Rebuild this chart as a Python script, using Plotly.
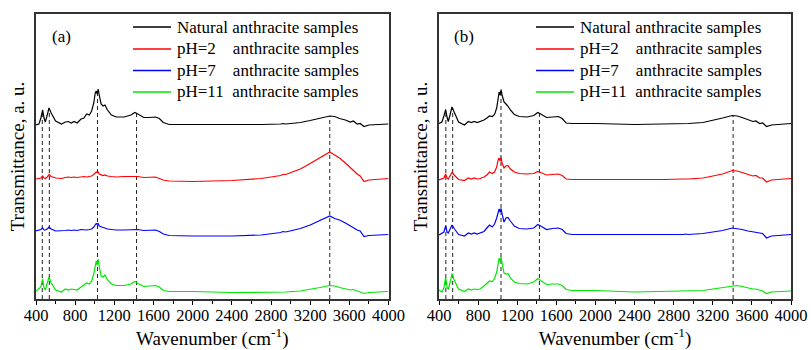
import numpy as np
import plotly.graph_objects as go

# ---------------- data (wavenumber in cm-1, transmittance in a.u. with vertical offsets) -----------
wavenumber = [400, 430, 450, 468, 482, 495, 515, 533, 555, 600, 660, 700, 730, 760, 790, 820, 860, 890,
              917, 945, 968, 990, 1005, 1015, 1025, 1035, 1045, 1065, 1085, 1104, 1130, 1170, 1220, 1300,
              1370, 1410, 1440, 1500, 1560, 1620, 1660, 1700, 1760, 2000, 2400, 2700, 2900, 2920, 2950,
              3100, 3200, 3300, 3400, 3450, 3500, 3560, 3610, 3640, 3680, 3710, 3750, 3800, 4000]

# panel (a)
a_natural = [175, 176, 182, 190, 182, 178, 185, 192, 187, 179, 176, 178, 178.5, 177, 178.5, 177, 181, 182,
             186, 185, 189, 197, 207, 209, 206, 211, 205, 196, 194, 195, 190, 185, 183, 183,
             185, 187.5, 186, 182.5, 182.5, 183, 181.5, 177.5, 175.5, 175.5, 175, 175.5, 176, 176.5, 176,
             177.5, 179.5, 182, 184, 183.5, 181.5, 180, 178, 179, 176, 176.5, 173.5, 175, 176]
a_ph2 = [121, 121.5, 122, 124, 122, 121.5, 123, 125.5, 123.5, 122, 121.5, 122.5, 123, 122.5, 123, 122.5, 123, 123.5,
         123, 123.5, 124, 125.5, 127, 128, 127.5, 128, 126, 125, 124.5, 125, 124, 123.5, 123, 123.5,
         123.5, 124, 123.5, 122.5, 122.5, 123, 121.5, 120, 119, 118.5, 119.5, 121.5, 124.5, 125.5, 125.5,
         131, 136.5, 142.5, 148, 145, 142, 137, 132, 130, 126, 124, 118.5, 120, 121.5]
a_ph7 = [69, 69.5, 70.5, 72, 70, 70, 71, 73, 71, 69, 69, 69.5, 70, 69.5, 70, 69.5, 70.5, 70,
         70, 70.5, 71, 73, 75, 76.5, 76, 76.5, 74, 73, 72.5, 72, 71, 70.5, 70, 70,
         70.5, 71, 70.5, 69.5, 69.5, 70, 68.5, 66, 64.5, 64, 64, 65, 67.5, 68.5, 68,
         71.5, 75, 79.5, 84, 81.5, 80, 77, 74, 73, 70, 69, 63.5, 64.5, 65.5]
a_ph11 = [9, 11, 13, 21, 12, 10, 16, 23, 17, 10, 8, 11, 10, 11, 10.5, 10, 13, 15,
          17, 16, 19, 26, 37, 39, 35, 41, 34, 24, 23, 25, 20, 16, 14.5, 14.5,
          16, 18.5, 16.5, 13.5, 14, 14.5, 13, 9.5, 8.5, 8.5, 7.5, 7.5, 8, 8, 8,
          9, 10.5, 12.5, 14.5, 14, 12.5, 11.5, 10, 10.5, 9, 8.5, 6.5, 7.5, 8.5]

# panel (b)
b_natural = [176.5, 178, 184, 190.5, 183, 178.5, 186, 193, 188, 178, 175, 178.5, 177.5, 178.5, 177.5, 178.5, 180, 182,
             184, 183.5, 185.5, 192, 204, 208, 205, 210.5, 205, 198, 196, 194, 190, 185.5, 183.5, 183,
             184.5, 187.5, 186, 182.5, 183, 183.5, 181.5, 177, 176.5, 176.5, 175.5, 176, 176.5, 176.5, 176.5,
             177.5, 179.5, 182, 184.5, 184, 182.5, 180.5, 178.5, 179, 176.5, 177, 173.5, 175, 176.5]
b_ph2 = [120, 121.5, 122, 126, 122, 121, 124, 127.5, 125, 120.5, 119.5, 122, 121, 122, 121, 121.5, 123, 125,
         128, 126.5, 128, 133, 140, 142, 139, 142.5, 137, 132, 134, 134.5, 131, 128, 126.5, 126,
         126.5, 128.5, 127.5, 125, 125.5, 126, 124.5, 121, 120.5, 120.5, 120, 120.5, 121, 121, 121,
         122, 124, 126, 129.5, 129, 127.5, 125.5, 124, 124.5, 122, 122, 118, 120, 121.5]
b_ph7 = [65, 66.5, 68, 74, 68, 67, 71, 75, 71.5, 65.5, 64, 67, 66, 67, 66, 67, 68.5, 72,
         75, 73, 76, 82, 89, 91, 88, 91.5, 86, 78, 82, 82.5, 79, 74, 71.5, 71,
         72, 75.5, 74, 70.5, 71.5, 72, 70.5, 66.5, 65.5, 65.5, 65, 65.5, 65.5, 66, 65.5,
         66.5, 68, 69.5, 72, 71.5, 70.5, 69, 68, 68, 66.5, 66.5, 62, 64, 65.5]
b_ph11 = [10, 8, 12, 23, 13, 10.5, 18, 26.5, 20, 11, 8.5, 11, 10, 11, 10.5, 11, 14, 17,
          19, 18.5, 21.5, 28, 38, 42, 38, 43, 37, 27, 26, 26.5, 22, 18, 16.5, 16,
          18, 21.5, 19.5, 15.5, 16, 16, 14.5, 10.5, 9.5, 9.5, 8, 8.5, 9, 9, 9,
          9.5, 11, 12.5, 14.5, 14.5, 13.5, 12, 11, 11, 9.5, 9, 6.5, 8, 9]

# marked band positions (cm-1)
peaks_a = [464, 536, 1028, 1427, 3400]
peaks_b = [470, 540, 1034, 1427, 3408]

tick_values = [400, 800, 1200, 1600, 2000, 2400, 2800, 3200, 3600, 4000]
tick_labels = ["400", "800", "1200", "1600", "2000", "2400", "2800", "3200", "3600", "4000"]

series_names = ["Natural\u00a0anthracite samples",
                "pH=2\u00a0\u00a0\u00a0\u00a0anthracite samples",
                "pH=7\u00a0\u00a0\u00a0\u00a0anthracite samples",
                "pH=11\u00a0\u00a0anthracite samples"]
series_colors = ["#000000", "#ff0000", "#0000ff", "#00e600"]
panel_labels = ["(a)", "(b)"]

X_RANGE = [400, 4000]
Y_RANGE = [1, 286]
FONT = "Liberation Serif"

# ---------------- layout geometry (pixels) ----------------
W, H = 811, 350
M_L, M_R, M_T, M_B = 36, 20, 14, 51
PLOT_W = W - M_L - M_R
PLOT_H = H - M_T - M_B
PANEL_LEFT_PX = [36, 439]
PANEL_RIGHT_PX = [388.5, 791]
LEGEND_ROW_PX = [27, 49, 70.5, 92]


def px_x(px):
    return (px - M_L) / PLOT_W


def px_y(py):
    return 1 - (py - M_T) / PLOT_H


fig = go.Figure()

panels = [
    dict(xa="x", ya="y", data=[a_natural, a_ph2, a_ph7, a_ph11], peaks=peaks_a),
    dict(xa="x2", ya="y2", data=[b_natural, b_ph2, b_ph7, b_ph11], peaks=peaks_b),
]

for p in panels:
    natural = p["data"][0]
    for pk in p["peaks"]:
        top = float(np.interp(pk, wavenumber, natural))
        fig.add_trace(go.Scatter(x=[pk, pk], y=[Y_RANGE[0], top], mode="lines",
                                 line=dict(color="#222222", width=1, dash="4px,3px"),
                                 xaxis=p["xa"], yaxis=p["ya"], showlegend=False, hoverinfo="skip"))
    for name, col, vals in zip(series_names, series_colors, p["data"]):
        fig.add_trace(go.Scatter(x=wavenumber, y=vals, mode="lines", name=name,
                                 line=dict(color=col, width=1.2),
                                 xaxis=p["xa"], yaxis=p["ya"], showlegend=False))

axis_common = dict(range=X_RANGE, tickmode="array", tickvals=tick_values, ticktext=tick_labels,
                   ticks="outside", ticklen=4, tickwidth=1, automargin=False, ticklabelstandoff=-4,
                   tickcolor="black", showline=True, linecolor="#333333", linewidth=1.5, mirror=True,
                   showgrid=False, zeroline=False,
                   tickfont=dict(family=FONT, size=16.5, color="black"),
                   minor=dict(dtick=200, tick0=400, ticks="outside", ticklen=3, tickcolor="black"),
                   title=dict(text="Wavenumber (cm<sup>-1</sup>)", font=dict(family=FONT, size=19, color="black"),
                              standoff=11))
yaxis_common = dict(range=Y_RANGE, showticklabels=False, ticks="", showline=True, linecolor="#333333",
                    linewidth=1.5, mirror=True, showgrid=False, zeroline=False, automargin=False,
                    title=dict(text="Transmittance, a. u.", font=dict(family=FONT, size=19, color="black"),
                               standoff=5))

# legend entries (one block per panel), built from the series names and colours
shapes = []
annotations = []
for left in PANEL_LEFT_PX:
    text_x = left + 139
    for row_y, name, col in zip(LEGEND_ROW_PX, series_names, series_colors):
        shapes.append(dict(type="line", xref="paper", yref="paper",
                           x0=px_x(text_x - 42), x1=px_x(text_x - 4), y0=px_y(row_y), y1=px_y(row_y),
                           line=dict(color=col, width=1.3)))
        annotations.append(dict(text=name, x=px_x(text_x), y=px_y(row_y), xref="paper", yref="paper",
                                xanchor="left", yanchor="middle", showarrow=False,
                                font=dict(family=FONT, size=17, color="black")))

for left, label in zip(PANEL_LEFT_PX, panel_labels):
    annotations.append(dict(text=label, x=px_x(left + 25), y=px_y(36), xref="paper", yref="paper",
                            xanchor="center", yanchor="middle", showarrow=False,
                            font=dict(family=FONT, size=17, color="black")))

fig.update_layout(
    width=W, height=H,
    margin=dict(l=M_L, r=M_R, t=M_T, b=M_B, autoexpand=False),
    paper_bgcolor="white", plot_bgcolor="white",
    xaxis=dict(domain=[px_x(PANEL_LEFT_PX[0]), px_x(PANEL_RIGHT_PX[0])], anchor="y", **axis_common),
    yaxis=dict(domain=[0, 1], anchor="x", **yaxis_common),
    xaxis2=dict(domain=[px_x(PANEL_LEFT_PX[1]), px_x(PANEL_RIGHT_PX[1])], anchor="y2", **axis_common),
    yaxis2=dict(domain=[0, 1], anchor="x2", **yaxis_common),
    shapes=shapes,
    annotations=annotations,
    showlegend=False,
)

fig.write_html("out.html", config={"displayModeBar": False},
               post_script="document.body.style.margin='0px';")
